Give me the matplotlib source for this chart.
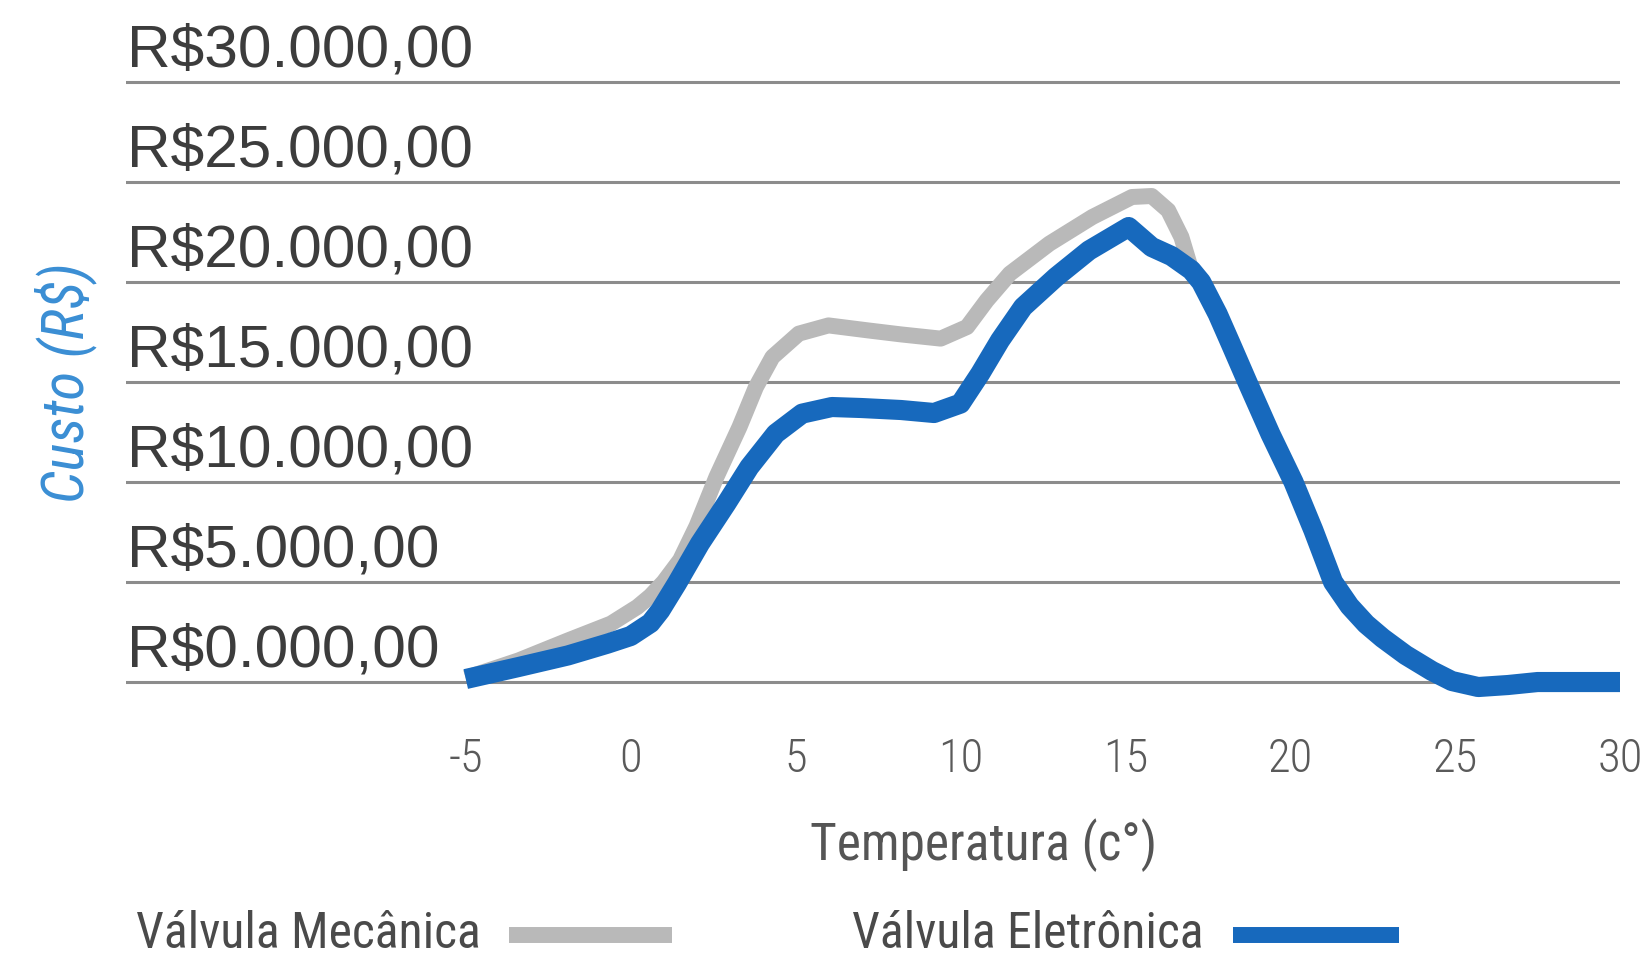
import matplotlib
matplotlib.use('Agg')
from matplotlib import pyplot as plt
from matplotlib import font_manager as fm
from matplotlib.lines import Line2D

# custo (R$) em função da temperatura (c°)
temp_eletronica = [-5, -3.4, -1.9, -0.7, 0.0, 0.6, 0.9, 1.15, 1.4, 2.1, 2.9, 3.6, 4.4, 5.2,
                   6.1, 7.0, 8.2, 9.2, 10.0, 10.6, 11.2, 11.9, 12.9, 13.9, 15.1, 15.8,
                   16.4, 17.0, 17.3, 17.8, 18.2, 18.7, 19.4, 20.1, 20.7, 21.3, 21.8, 22.3,
                   22.8, 23.5, 24.3, 24.9, 25.7, 26.6, 27.5, 30]
eletronica = [150, 750, 1330, 1920, 2300, 2950, 3580, 4250, 4920, 6920, 8920, 10750,
              12420, 13420, 13750, 13700, 13600, 13450, 13920, 15420, 17080, 18750,
              20250, 21580, 22750, 21750, 21300, 20600, 20000, 18400, 16900, 15000,
              12400, 10000, 7600, 5000, 3800, 2900, 2200, 1350, 550, 50, -250, -150, 0, 0]

temp_mecanica = [-5, -3.4, -1.9, -0.6, 0.2, 0.6, 1.0, 1.5, 2.0, 2.6, 3.3, 3.8, 4.3, 5.1,
                 6.0, 7.2, 8.2, 9.4, 10.2, 10.8, 11.5, 12.7, 14.0, 15.2, 15.8, 16.3,
                 16.7, 17.0, 17.3, 17.8, 18.2, 18.7, 19.4, 20.1, 20.7, 21.3, 21.8, 22.3,
                 22.8, 23.5, 24.3, 24.9, 25.7, 26.6, 27.5, 30]
mecanica = [200, 1080, 2080, 2920, 3750, 4300, 5000, 6100, 7800, 10250, 12750, 14750,
            16250, 17420, 17830, 17580, 17380, 17170, 17750, 19080, 20420, 21920, 23250,
            24250, 24300, 23580, 22250, 20600, 20000, 18400, 16900, 15000, 12400, 10000,
            7600, 5000, 3800, 2900, 2200, 1350, 550, 50, -250, -150, 0, 0]

y_ticks = [0, 5000, 10000, 15000, 20000, 25000, 30000]
x_ticks = [-5, 0, 5, 10, 15, 20, 25, 30]

cinza = '#b9b9b9'
azul = '#1769bd'

# fonte estreita se houver, senão Roboto
nomes = {f.name for f in fm.fontManager.ttflist}
estreita = next((n for n in ['Roboto Condensed', 'Liberation Sans Narrow', 'Open Sans Condensed']
                 if n in nomes), None)
fonte = [estreita or 'Roboto', 'DejaVu Sans']
k = 1.12 if estreita else 1.0

fig = plt.figure(figsize=(16.46, 9.6), dpi=100)
ax = fig.add_axes([0.0766, 0.2583, 0.9076, 0.6667])

ax.plot(temp_mecanica, mecanica, color=cinza, lw=11.5, solid_capstyle='butt',
        solid_joinstyle='round', clip_on=False, zorder=3)
ax.plot(temp_eletronica, eletronica, color=azul, lw=14.5, solid_capstyle='butt',
        solid_joinstyle='round', clip_on=False, zorder=4)

ax.set_xlim(-15.3, 30)
ax.set_ylim(-1500, 30500)
ax.set_yticks(y_ticks)
ax.set_yticklabels([])
ax.grid(axis='y', color='#8c8c8c', lw=2.2, zorder=1)
ax.tick_params(axis='y', length=0)

for v in y_ticks:
    ax.annotate('R$%d.000,00' % (v // 1000), xy=(0.0, v), xycoords=('axes fraction', 'data'),
                xytext=(1, 11), textcoords='offset points', va='baseline', ha='left',
                fontsize=43.5, color='#3c3c3c', family='Liberation Sans')

ax.set_xticks(x_ticks)
ax.set_xticklabels([str(t) for t in x_ticks], fontsize=30 * k, color='#5a5a5a',
                   family=fonte, fontweight='light')
ax.tick_params(axis='x', length=0, pad=18)

for s in ax.spines.values():
    s.set_visible(False)

fig.text(0.5978, 0.120, 'Temperatura (c°)', ha='center', va='center',
         fontsize=33 * k, color='#555555', family=fonte)
fig.text(0.040, 0.601, 'Custo (R$)', rotation=90, ha='center', va='center',
         fontsize=38 * k, color='#3a8ed4', style='italic', family=fonte)

# legenda
fig.text(0.0826, 0.027, 'Válvula Mecânica', ha='left', va='center',
         fontsize=32 * k, color='#4a4a4a', family=fonte)
fig.add_artist(Line2D([0.309, 0.408], [0.0265, 0.0265], color=cinza, lw=11.5,
                      solid_capstyle='butt', transform=fig.transFigure))
fig.text(0.5176, 0.027, 'Válvula Eletrônica', ha='left', va='center',
         fontsize=32 * k, color='#4a4a4a', family=fonte)
fig.add_artist(Line2D([0.749, 0.850], [0.0265, 0.0265], color=azul, lw=11.5,
                      solid_capstyle='butt', transform=fig.transFigure))

fig.savefig('out.png', dpi=100, facecolor='white')
